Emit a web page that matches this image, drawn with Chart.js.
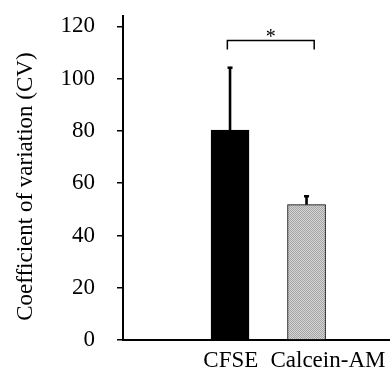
<!DOCTYPE html>
<html>
<head>
<meta charset="utf-8">
<script src="https://cdn.jsdelivr.net/npm/chart.js@4/dist/chart.umd.min.js"></script>
<style>
html,body{margin:0;padding:0;background:#fff;}
#wrap{width:390px;height:374px;position:relative;}
</style>
</head>
<body>
<div id="wrap"><canvas id="c" width="390" height="374"></canvas></div>
<script>
// ---- data ----
const categories = ['CFSE', 'Calcein-AM'];
const categoryX = [1, 2];
const means = [80.3, 51.8];
const errors = [24.2, 3.5];
const yTicks = [0, 20, 40, 60, 80, 100, 120];
const labelX = [1.01, 2.28];
const sigBracketX = [0.965, 2.10];
const sigBracketY = [114.6, 111.2];
const sigLabel = '*';
const yTitle = 'Coefficient of variation (CV)';

// dotted grey fill for second bar
function makePattern(){
  const pc = document.createElement('canvas');
  pc.width = 2; pc.height = 2;
  const g = pc.getContext('2d');
  g.fillStyle = '#d6d6d6'; g.fillRect(0,0,2,2);
  g.fillStyle = '#a4a4a4'; g.fillRect(0,0,1,1); g.fillRect(1,1,1,1);
  return g.createPattern(pc, 'repeat');
}
const fills = ['#000000', makePattern()];

const FONT = "'Liberation Serif', 'Times New Roman', serif";

const overlay = {
  id: 'overlay',
  afterDatasetsDraw(chart){
    const ctx = chart.ctx;
    const xs = chart.scales.x, ys = chart.scales.y;
    ctx.save();
    ctx.strokeStyle = '#000'; ctx.fillStyle = '#000';
    means.forEach((m, i) => {
      const px = xs.getPixelForValue(categoryX[i]);
      const y0 = ys.getPixelForValue(m);
      const y1 = ys.getPixelForValue(m + errors[i]);
      ctx.lineWidth = 2.6;
      ctx.beginPath(); ctx.moveTo(px, y0); ctx.lineTo(px, y1); ctx.stroke();
      ctx.fillRect(px - 2.5, y1 - 0.5, 5, 2.5);
    });
    const bx0 = xs.getPixelForValue(sigBracketX[0]);
    const bx1 = xs.getPixelForValue(sigBracketX[1]);
    const by = ys.getPixelForValue(sigBracketY[0]);
    const byd = ys.getPixelForValue(sigBracketY[1]);
    ctx.lineWidth = 1.5;
    ctx.beginPath();
    ctx.moveTo(bx0, byd); ctx.lineTo(bx0, by); ctx.lineTo(bx1, by); ctx.lineTo(bx1, byd);
    ctx.stroke();
    ctx.font = '20px ' + FONT;
    ctx.textAlign = 'center'; ctx.textBaseline = 'middle';
    ctx.fillText(sigLabel, (bx0 + bx1) / 2, by - 3);
    ctx.restore();
  }
};

new Chart(document.getElementById('c'), {
  type: 'bar',
  data: {
    datasets: [{
      data: means.map((m, i) => ({x: categoryX[i], y: m})),
      backgroundColor: fills,
      borderColor: '#000',
      borderWidth: 1,
      borderSkipped: 'bottom',
      barThickness: 38
    }]
  },
  options: {
    responsive: false,
    animation: false,
    devicePixelRatio: 1,
    layout: {padding: {top: 16, left: 0, right: 0, bottom: 0}},
    plugins: {legend: {display: false}, tooltip: {enabled: false}},
    scales: {
      x: {
        type: 'linear',
        min: -0.399,
        max: 3.091,
        offset: false,
        afterBuildTicks: s => { s.ticks = labelX.map(v => ({value: v})); },
        afterFit: s => { s.height = 34; s.paddingLeft = 0; s.paddingRight = 0; },
        grid: {display: false, offset: false},
        border: {display: true, color: '#000', width: 2},
        ticks: {
          autoSkip: false,
          maxRotation: 0,
          padding: -1,
          color: '#000',
          font: {family: FONT, size: 23},
          callback: (v, i) => categories[i]
        }
      },
      y: {
        min: 0,
        max: 124,
        afterBuildTicks: s => { s.ticks = yTicks.map(v => ({value: v})); },
        afterFit: s => { s.width = 123; s.paddingTop = 0; s.paddingBottom = 0; },
        grid: {display: true, drawOnChartArea: false, drawTicks: true, tickLength: 6, color: '#000', lineWidth: 1.5},
        border: {display: true, color: '#000', width: 2},
        ticks: {padding: 22, color: '#000', font: {family: FONT, size: 23}},
        title: {display: true, text: yTitle + '\u00a0\u00a0\u00a0', color: '#000', font: {family: FONT, size: 23}, padding: {top: 12, bottom: 0}}
      }
    }
  },
  plugins: [overlay]
});
</script>
</body>
</html>
